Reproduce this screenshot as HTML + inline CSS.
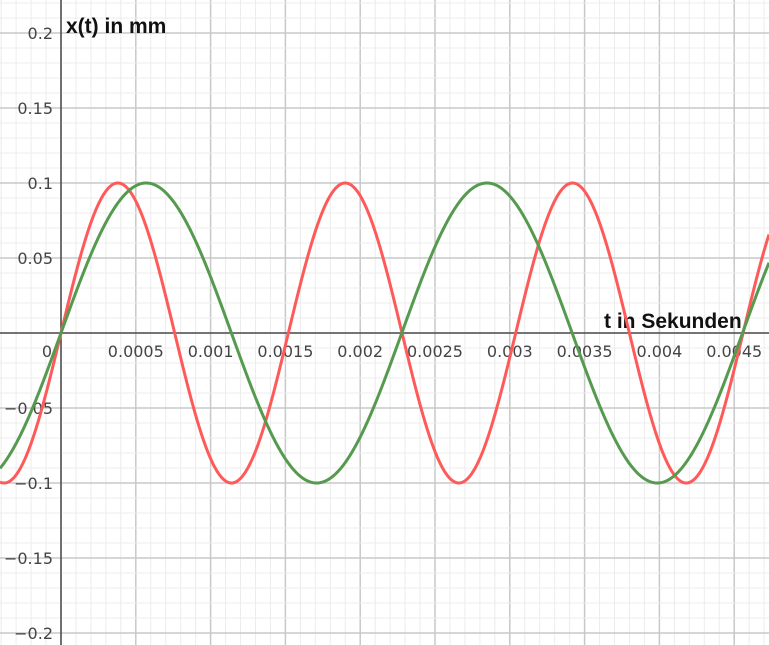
<!DOCTYPE html>
<html><head><meta charset="utf-8"><style>
html,body{margin:0;padding:0;background:#fff;}
svg{display:block;font-family:"DejaVu Sans","Liberation Sans",sans-serif;}
</style></head><body>
<svg id="chart" width="769" height="645" xmlns="http://www.w3.org/2000/svg">
<g id="grid"></g>
<g id="axes"></g>
<g id="curves"></g>
</svg>
<script>
const seriesNames = ['red-wave','green-wave'];
const frequencies = [658, 439];
const amplitudes = [0.1, 0.1];
const colors = ['#ff5a5a','#559a4f'];
const xTickValues = [0.0005,0.001,0.0015,0.002,0.0025,0.003,0.0035,0.004,0.0045];
const xTickLabels = ['0.0005','0.001','0.0015','0.002','0.0025','0.003','0.0035','0.004','0.0045'];
const yTickValues = [0.2,0.15,0.1,0.05,-0.05,-0.1,-0.15,-0.2];
const yTickLabels = ['0.2','0.15','0.1','0.05','−0.05','−0.1','−0.15','−0.2'];

const W=769,H=645,X0=61,Y0=333,PX=74.8/0.0005,PY=75/0.05;
const sx=t=>X0+t*PX, sy=v=>Y0-v*PY;
const NS='http://www.w3.org/2000/svg';
function mk(tag,attrs,parent){const e=document.createElementNS(NS,tag);for(const k in attrs)e.setAttribute(k,attrs[k]);parent.appendChild(e);return e;}
const grid=document.getElementById('grid'),axes=document.getElementById('axes'),curves=document.getElementById('curves');
for(let i=-10;i<=80;i++){const x=sx(i*0.0001);if(x<0||x>W)continue;const major=i%5===0;
 const l=mk('line',{x1:x,y1:0,x2:x,y2:H,stroke:major?'#c8c8c8':'#ececec','stroke-width':major?1.5:1},grid);
 }
for(let j=-30;j<=30;j++){const y=sy(j*0.01);if(y<0||y>H)continue;const major=j%5===0;
 const l=mk('line',{x1:0,y1:y,x2:W,y2:y,stroke:major?'#c8c8c8':'#ececec','stroke-width':major?1.5:1},grid);
 }
let a=mk('line',{x1:0,y1:Y0,x2:W,y2:Y0,stroke:'#333','stroke-width':1.3},axes);

a=mk('line',{x1:X0,y1:0,x2:X0,y2:H,stroke:'#333','stroke-width':1.3},axes);

xTickValues.forEach((v,i)=>{const t=mk('text',{x:sx(v),y:Y0+24,'text-anchor':'middle','font-size':16,fill:'#444'},axes);t.textContent=xTickLabels[i];
 });
yTickValues.forEach((v,i)=>{const t=mk('text',{x:X0-8,y:sy(v)+6,'text-anchor':'end','font-size':16,fill:'#444'},axes);t.textContent=yTickLabels[i];
 });
let o=mk('text',{x:X0-9,y:Y0+24,'text-anchor':'end','font-size':16,fill:'#444'},axes);o.textContent='0';

let yt=mk('text',{x:66,y:33,'font-size':21,'font-weight':'bold',fill:'#111','font-family':'Liberation Sans, sans-serif'},axes);yt.textContent='x(t) in mm';

let xt=mk('text',{x:604,y:328,'font-size':21,'font-weight':'bold',fill:'#111','font-family':'Liberation Sans, sans-serif'},axes);xt.textContent='t in Sekunden';

frequencies.forEach((f,k)=>{let d='';for(let px=0;px<=W;px+=1){const t=(px-X0)/PX;const v=amplitudes[k]*Math.sin(2*Math.PI*f*t);d+=(px?'L':'M')+px+','+sy(v).toFixed(2);}
 const p=mk('path',{d:d,fill:'none',stroke:colors[k],'stroke-width':3,'stroke-linejoin':'round'},curves);
 });
</script>
</body></html>
